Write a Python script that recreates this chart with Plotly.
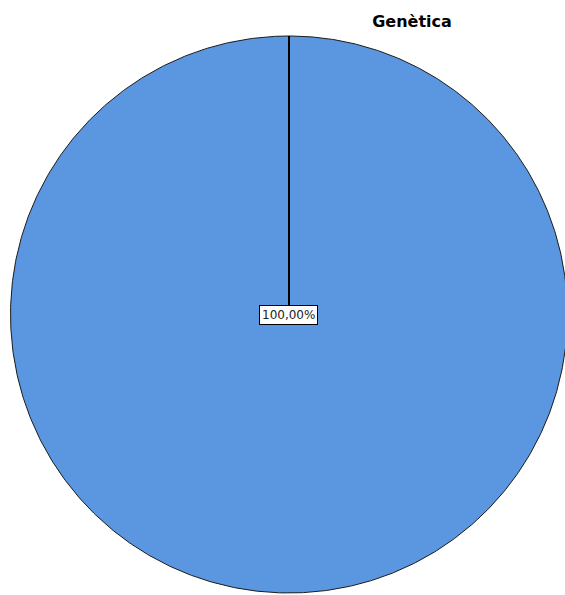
import numpy as np
import plotly.graph_objects as go

# Pie data: a single category that takes the whole circle
chart_title = "Genètica"
categories = ["Genètica"]
values = [100.0]
slice_colors = ["#5B97E1"]

W, H = 565, 595
cx_px, cy_px = 289.0, 314.5   # pie centre in page pixels
radius = 278.5

total = float(sum(values))
percents = [v / total * 100.0 for v in values]

fig = go.Figure()

start = 90.0  # first slice starts at 12 o'clock, running clockwise
for cat, v, col in zip(categories, values, slice_colors):
    sweep = v / total * 360.0
    n = max(int(sweep * 2), 2) + 1
    ang = np.radians(np.linspace(start, start - sweep, n))
    xs = np.concatenate([[0.0], radius * np.cos(ang), [0.0]])
    ys = np.concatenate([[0.0], radius * np.sin(ang), [0.0]])
    fig.add_trace(go.Scatter(
        x=xs, y=ys, mode="lines", fill="toself",
        fillcolor=col, line=dict(color="#1a1a1a", width=1),
        name=cat, hoverinfo="skip", showlegend=False,
    ))
    # slice edge drawn a bit heavier
    fig.add_trace(go.Scatter(
        x=[0.0, radius * np.cos(np.radians(start))],
        y=[0.0, radius * np.sin(np.radians(start))],
        mode="lines", line=dict(color="#000000", width=2),
        hoverinfo="skip", showlegend=False,
    ))
    start -= sweep

# Percentage labels
for p in percents:
    fig.add_annotation(
        x=-0.5, y=-0.5, xref="x", yref="y",
        text=f"{p:.2f}%".replace(".", ","),
        showarrow=False, bgcolor="white",
        bordercolor="#000000", borderwidth=1, borderpad=2,
        font=dict(family="DejaVu Sans", size=12, color="#222222"),
    )

fig.update_layout(
    width=W, height=H,
    margin=dict(l=0, r=0, t=0, b=0),
    paper_bgcolor="white", plot_bgcolor="white",
    title=dict(
        text=chart_title, x=412 / W, y=1 - 21 / H,
        xanchor="center", yanchor="middle",
        font=dict(family="DejaVu Sans", size=16, color="#000000", weight="bold"),
    ),
    xaxis=dict(range=[-cx_px, W - cx_px], visible=False, fixedrange=True),
    yaxis=dict(range=[cy_px - H, cy_px], visible=False, fixedrange=True),
    showlegend=False,
)

fig.write_html("out.html")
